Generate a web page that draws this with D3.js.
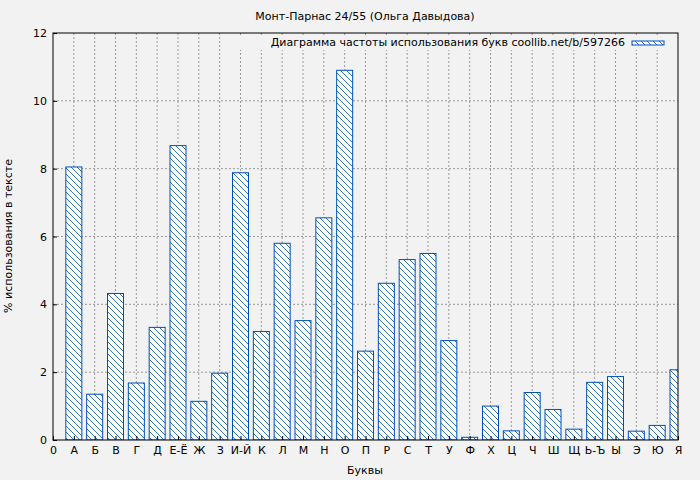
<!DOCTYPE html><html><head><meta charset="utf-8"><script src="https://cdn.jsdelivr.net/npm/d3@7"></script>
<style>body{margin:0;background:#f2f2f2}text{font-family:"DejaVu Sans",sans-serif}</style></head><body>
<svg id="c" width="700" height="480"></svg>
<script>
const tickLabels=["0","А","Б","В","Г","Д","Е-Ё","Ж","З","И-Й","К","Л","М","Н","О","П","Р","С","Т","У","Ф","Х","Ц","Ч","Ш","Щ","Ь-Ъ","Ы","Э","Ю","Я"];
const letters=tickLabels.slice(1);
const values=[8.05,1.35,4.32,1.68,3.32,8.68,1.14,1.97,7.88,3.2,5.8,3.52,6.55,10.9,2.62,4.62,5.32,5.5,2.93,0.08,1.0,0.27,1.4,0.9,0.32,1.7,1.87,0.26,0.43,2.07];
const yTicks=[0,2,4,6,8,10,12];
const svg=d3.select("#c");
const L=53,R=678,T=33,B=440;
const x=d3.scaleLinear().domain([0,30]).range([L,R]);
const y=d3.scaleLinear().domain([0,12]).range([B,T]);
const blue="#0050b4";
const defs=svg.append("defs");
const p=defs.append("pattern").attr("id","h").attr("patternUnits","userSpaceOnUse").attr("width",6).attr("height",6);
p.append("rect").attr("width",6).attr("height",6).attr("fill","#fff");
p.append("path").attr("d","M-1,-1L7,7M-4,2L2,8M2,-4L8,2").attr("stroke",blue).attr("stroke-width",0.8);
defs.append("clipPath").attr("id","cp").append("rect").attr("x",L).attr("y",T).attr("width",R-L).attr("height",B-T);
svg.append("rect").attr("x",L).attr("y",T).attr("width",R-L).attr("height",B-T).attr("fill","#f2f2f2");
const g=svg.append("g");
g.selectAll(".gx").data(d3.range(1,30)).join("line").attr("x1",d=>x(d)).attr("x2",d=>x(d)).attr("y1",T).attr("y2",B).attr("stroke","#999").attr("stroke-dasharray","2,2");
g.selectAll(".gy").data(yTicks.slice(1,-1)).join("line").attr("y1",d=>y(d)).attr("y2",d=>y(d)).attr("x1",L).attr("x2",R).attr("stroke","#999").attr("stroke-dasharray","2,2");
svg.append("g").attr("clip-path","url(#cp)").selectAll("rect").data(values).join("rect")
 .attr("x",(d,i)=>x(i+1)-8).attr("width",16).attr("y",d=>y(d)).attr("height",d=>B-y(d))
 .attr("fill","url(#h)").attr("stroke",blue).attr("stroke-width",1);
svg.append("rect").attr("x",L).attr("y",T).attr("width",R-L).attr("height",B-T).attr("fill","none").attr("stroke","#000");
const ax=svg.append("g").attr("transform",`translate(0,${B})`).call(d3.axisBottom(x).tickValues(d3.range(0,31)).tickFormat(d=>tickLabels[d]).tickSize(-4).tickPadding(6));
const ay=svg.append("g").attr("transform",`translate(${L},0)`).call(d3.axisLeft(y).tickValues(yTicks).tickSize(-4).tickPadding(6));
[ax,ay].forEach(a=>{a.select(".domain").remove();a.selectAll("text").attr("font-size",11).attr("fill","#000");a.selectAll("line").attr("stroke","#000");});
svg.append("text").attr("x",365).attr("y",20).attr("text-anchor","middle").attr("font-size",11).text("Монт-Парнас 24/55 (Ольга Давыдова)");
svg.append("text").attr("x",365).attr("y",474).attr("text-anchor","middle").attr("font-size",11).text("Буквы");
svg.append("text").attr("transform","translate(12,236) rotate(-90)").attr("text-anchor","middle").attr("font-size",11).text("% использования в тексте");
svg.append("rect").attr("x",240).attr("y",36).attr("width",432).attr("height",14).attr("fill","#f2f2f2");
svg.append("text").attr("x",625).attr("y",46).attr("text-anchor","end").attr("font-size",11).text("Диаграмма частоты использования букв coollib.net/b/597266");
svg.append("rect").attr("x",632).attr("y",41).attr("width",32).attr("height",4).attr("fill","url(#h)").attr("stroke",blue);
</script></body></html>
